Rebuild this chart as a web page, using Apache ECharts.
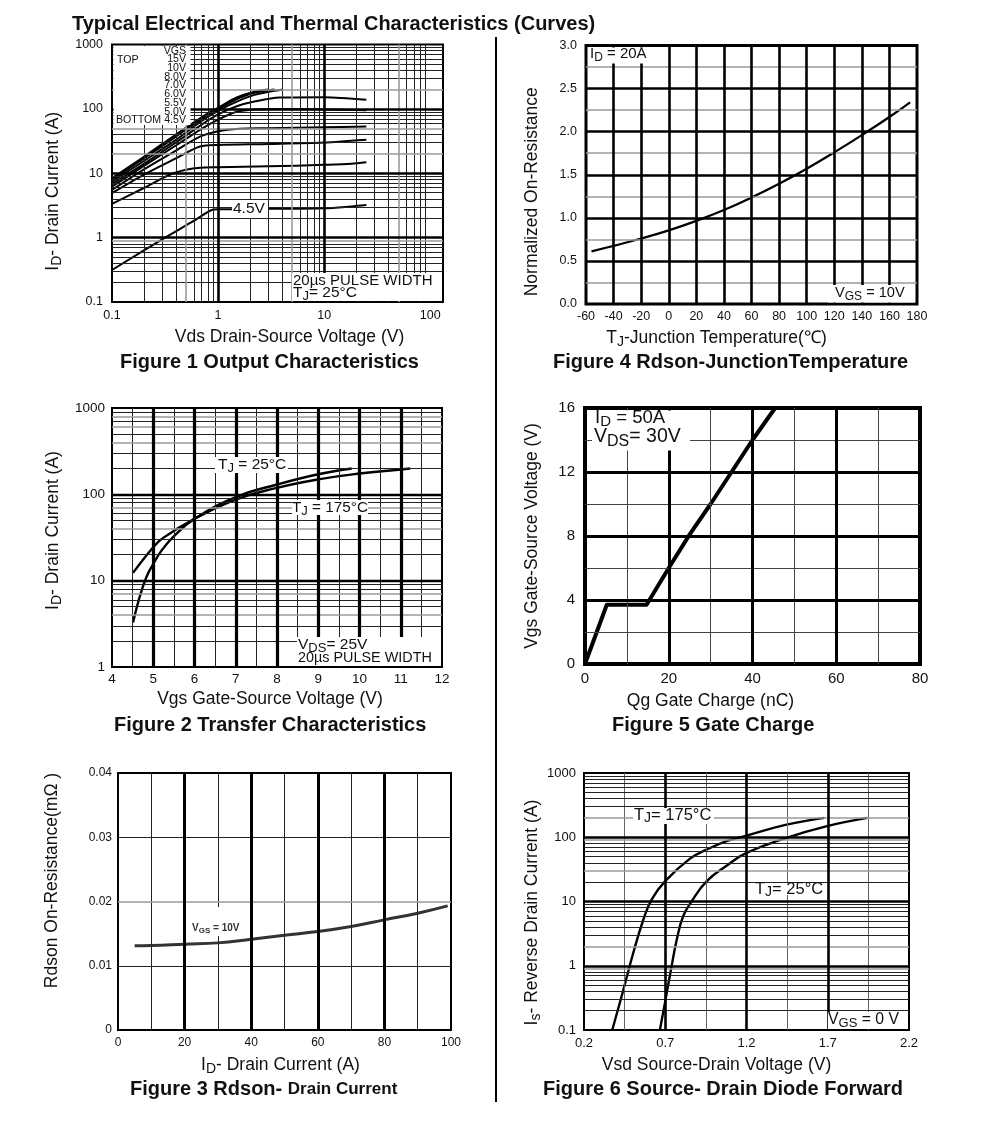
<!DOCTYPE html>
<html><head><meta charset="utf-8">
<style>html,body{margin:0;padding:0;background:#fff}#c{width:991px;height:1129px}</style>
<script src="https://cdn.jsdelivr.net/npm/echarts@6/dist/echarts.min.js"></script>
</head><body><div id="c"></div>
<script>
// ---------- Figure 1 curves (Vds, Id), one array per trace ----------
const f1_a=[[0.1,0.314],[0.3,0.95],[0.6,1.85],[0.87,2.69],[1,2.76],[3,2.8],[10,2.86],[18,3.05],[25,3.2]];
const f1_b=[[0.1,3.34],[0.2,5.9],[0.379,10],[0.676,12.2],[1,12.4],[3,12.8],[10,13.5],[18,14],[25,14.8]];
const f1_c=[[0.1,4.9],[0.2,9.5],[0.4,17],[0.676,26],[1,27.5],[3,28.5],[10,30],[18,32],[25,33]];
const f1_d=[[0.1,5.5],[0.2,11.5],[0.4,22.5],[0.676,37],[1,45],[1.6,49],[3,50],[10,52],[25,53]];
const f1_e=[[0.1,6.2],[0.2,13],[0.4,27],[0.7,49],[1,68],[1.5,90],[2.2,98],[4,100],[10,98],[25,95]];
const f1_f=[[0.1,6.8],[0.2,14],[0.4,30],[0.7,57],[1,82],[1.5,110],[2.2,130],[3.8,150],[10,152],[25,138]];
const f1_g=[[0.1,7.4],[0.2,15.5],[0.4,33],[0.7,65],[1,93],[1.5,130],[2.2,165],[3,185],[4.1,200]];
const f1_h=[[0.1,7.9],[0.2,17],[0.4,37],[0.7,70],[1,98],[1.5,142],[2.2,178],[3.4,200]];
const f1_i=[[0.1,8.4],[0.2,18],[0.4,40],[0.7,74],[1,104],[1.5,150],[2.2,185],[3.0,200]];
const vgsLabels=['VGS','15V','10V','8.0V','7.0V','6.0V','5.5V','5.0V','4.5V'];
// ---------- Figure 2 ----------
const f2_25=[[4.51,3.27],[4.65,6],[4.83,10.9],[5,15.6],[5.2,22.3],[5.48,31.9],[6,52],[7,93],[8,130],[9,171],[9.81,199]];
const f2_175=[[4.51,12.3],[5,24.4],[5.24,31.3],[6,52],[7,87],[8,119],[9,149],[10,174],[11,194],[11.23,199]];
// ---------- Figure 3 ----------
const f3_vals=[[5,0.0131],[10,0.01314],[20,0.01335],[30,0.01356],[40,0.01413],[50,0.01475],[60,0.01532],[70,0.0161],[80,0.01714],[90,0.01818],[99,0.01932]];
// ---------- Figure 4 ----------
const f4_vals=[[-56,0.61],[-40,0.675],[-20,0.76],[0,0.855],[20,0.965],[40,1.09],[60,1.235],[80,1.395],[100,1.57],[120,1.76],[140,1.96],[160,2.17],[175,2.34]];
// ---------- Figure 5 ----------
const f5_vals=[[0,0],[5.2,3.7],[14.7,3.7],[20,6],[25,8.1],[30,10],[35,12],[40,14],[45.4,16]];
// ---------- Figure 6 ----------
const f6_175=[[0.374,0.1],[0.442,0.42],[0.503,1.58],[0.565,5.2],[0.616,10.7],[0.698,20.6],[0.852,46.5],[0.954,64],[1.077,87],[1.2,106],[1.446,157],[1.68,200]];
const f6_25=[[0.667,0.1],[0.702,0.3],[0.739,0.98],[0.77,2.5],[0.81,5.9],[0.862,10],[0.954,20.6],[1.077,36],[1.2,57],[1.446,98],[1.69,148],[1.944,200]];
// ---------- Tick labels and grid values ----------
const logTicks1=[0.1,1,10,100], logTicks2=[1,10,100,1000], logTicks3=[0.1,1,10,100,1000];
const decadeSteps=[2,3,4,5,6,7,8,9];
const minorsOf=(decades)=>decades.flatMap(d=>decadeSteps.map(m=>+(d*m).toPrecision(3)));
const f1_xMajor=[1,10], f1_xMinor=minorsOf([0.1,1,10]), f1_xGray=[0.5,5,50];
const f1_yMajor=[1,10,100], f1_yMinor=minorsOf([0.1,1,10,100]), f1_yGray=[20,50,200,0.9];
const f2_xMajor=[5,6,7,8,9,10,11], f2_xMinor=[4.5,5.5,6.5,7.5,8.5,9.5,10.5,11.5];
const f2_yMajor=[10,100], f2_yMinor=minorsOf([1,10,100]), f2_yGray=[4,7,40,70,400,600,800];
const f3_xMajor=[20,40,60,80], f3_xMinor=[10,30,50,70,90], f3_yMinor=[0.01,0.03], f3_yGray=[0.02];
const f4_xMajor=[-40,-20,0,20,40,60,80,100,120,140,160], f4_yMajor=[0.5,1,1.5,2,2.5], f4_yGray=[0.25,0.75,1.25,1.75,2.25,2.75];
const f5_xMajor=[20,40,60], f5_xMinor=[10,30,50,70], f5_yMajor=[4,8,12], f5_yMinor=[2,6,10,14];
const f6_xMajor=[0.7,1.2,1.7], f6_xMinor=[0.45,0.95,1.45,1.95];
const f6_yMajor=[1,10,100], f6_yMinor=minorsOf([0.1,1,10,100]), f6_yGray=[0.9,2,30,90,200];

const FONT='"Liberation Sans",Arial,sans-serif';
const sub=(a,s,b)=>`{a|${a}}{s|${s}}{a|${b}}`;
const richFor=(size,color,weight)=>({a:{fontSize:size,fontFamily:FONT,fontWeight:weight||'normal',color:color||'#111'},
  s:{fontSize:Math.round(size*0.82),fontFamily:FONT,fontWeight:weight||'normal',color:color||'#111',padding:[Math.round(size*0.45),0,0,0]}});

const figs=[
 {rect:[112,44.5,331,257.5],xType:'log',xMin:0.1,xMax:132,xTicks:logTicks1,yType:'log',yMin:0.1,yMax:1000,yTicks:logTicks3,
  xMajor:f1_xMajor,xMinor:f1_xMinor,xGray:f1_xGray,yMajor:f1_yMajor,yMinor:f1_yMinor,yGray:f1_yGray,
  majW:2.6,minW:1,frame:2,tick:12.5,xMargin:7,yMargin:9,minColor:'#222',
  xName:'Vds Drain-Source Voltage (V)',xGap:26,xShift:12,nameSize:17.5,yName:sub('I','D','- Drain Current (A)'),yGap:48,yShift:-18,
  series:[f1_a,f1_b,f1_c,f1_d,f1_e,f1_f,f1_g,f1_h,f1_i],lw:2,smooth:0.3},
 {rect:[112,408,330,259],xType:'value',xMin:4,xMax:12,xInt:1,yType:'log',yMin:1,yMax:1000,yTicks:logTicks2,
  xMajor:f2_xMajor,xMinor:f2_xMinor,yMajor:f2_yMajor,yMinor:f2_yMinor,yGray:f2_yGray,xMajW:3.2,majW:2.4,minW:1,frame:2,tick:13.5,xMargin:5,yMargin:7,minColor:'#222',
  xName:'Vgs Gate-Source Voltage (V)',xGap:23,xShift:-7,nameSize:17.5,yName:sub('I','D','- Drain Current (A)'),yGap:48,yShift:7,
  series:[f2_25,f2_175],lw:2.4,smooth:0.45},
 {rect:[118,773,333,257],xType:'value',xMin:0,xMax:100,xInt:20,yType:'value',yMin:0,yMax:0.04,yInt:0.01,
  xMajor:f3_xMajor,xMinor:f3_xMinor,yMinor:f3_yMinor,yGray:f3_yGray,xMajW:3,majW:1,minW:1,frame:2,tick:12,xMargin:7,yMargin:6,minColor:'#222',
  xName:sub('I','D','- Drain Current (A)'),xGap:24,xShift:-4,nameSize:17.5,yName:'Rdson On-Resistance(mΩ )',yGap:57,yShift:21,
  series:[f3_vals],lw:3,color:'#333',smooth:0.45},
 {rect:[586,45.5,331,258.5],xType:'value',xMin:-60,xMax:180,xInt:20,yType:'value',yMin:0,yMax:3,yInt:0.5,yFix:1,
  xMajor:f4_xMajor,yMajor:f4_yMajor,yGray:f4_yGray,majW:2.6,minW:1,frame:3,tick:12.5,xMargin:6,yMargin:9,
  xName:sub('T','J','-Junction Temperature(℃)'),xGap:23,xShift:-35,nameSize:17.5,yName:'Normalized On-Resistance',yGap:45,yShift:-17,
  series:[f4_vals],lw:2.2,smooth:0.45},
 {rect:[585,408,335,256],xType:'value',xMin:0,xMax:80,xInt:20,yType:'value',yMin:0,yMax:16,yInt:4,
  xMajor:f5_xMajor,xMinor:f5_xMinor,yMajor:f5_yMajor,yMinor:f5_yMinor,majW:3,minW:1,frame:4,tick:15,xMargin:7,yMargin:10,minColor:'#444',
  xName:'Qg Gate Charge (nC)',xGap:28,xShift:-42,nameSize:17.5,yName:'Vgs Gate-Source Voltage (V)',yGap:44,yShift:0,
  series:[f5_vals],lw:4,smooth:false},
 {rect:[584,773,325,257],xType:'value',xMin:0.2,xMax:2.2,xInt:0.5,xFix:1,yType:'log',yMin:0.1,yMax:1000,yTicks:logTicks3,
  xMajor:f6_xMajor,xMinor:f6_xMinor,yMajor:f6_yMajor,yMinor:f6_yMinor,yGray:f6_yGray,majW:2.6,minW:1,frame:2,tick:13,xMargin:7,yMargin:8,xMinColor:'#666',minColor:'#222',
  xName:'Vsd Source-Drain Voltage (V)',xGap:26,xShift:-30,nameSize:17.5,yName:sub('I','s','- Reverse Drain Current (A)'),yGap:41,yShift:-11,
  series:[f6_175,f6_25],lw:2.4,smooth:0.45}
];

const near=(v,list)=>list.some(t=>Math.abs(v/t-1)<1e-6);
const padFor=(shift)=>{const p=Math.abs(shift)*2;return shift>=0?[0,0,0,p]:[0,p,0,0];};
const grid=[],xAxis=[],yAxis=[],series=[];
figs.forEach((f,i)=>{
  grid.push({left:f.rect[0],top:f.rect[1],width:f.rect[2],height:f.rect[3],show:true,borderColor:'#000',borderWidth:f.frame,backgroundColor:'#fff',containLabel:false});
  const mk=(type,min,max,int,ticks,fix,name,gap,shift,margin)=>{
    const a={gridIndex:i,type,min,max,axisLine:{show:false},axisTick:{show:false},splitLine:{show:false},minorSplitLine:{show:false},
      nameLocation:'middle',name,nameGap:gap,nameMoveOverlap:false,
      nameTextStyle:{fontFamily:FONT,fontSize:f.nameSize,color:'#111',padding:padFor(shift),rich:richFor(f.nameSize)},
      axisLabel:{fontFamily:FONT,fontSize:f.tick,color:'#111',margin,hideOverlap:false,showMinLabel:true,showMaxLabel:true,
        formatter:(v)=>{ if(ticks) return near(v,ticks)?String(+v.toPrecision(3)):''; return fix?v.toFixed(fix):String(v);} }};
    if(int) a.interval=int;
    return a;
  };
  xAxis.push(mk(f.xType,f.xMin,f.xMax,f.xInt,f.xTicks,f.xFix,f.xName,f.xGap,f.xShift,f.xMargin));
  yAxis.push(mk(f.yType,f.yMin,f.yMax,f.yInt,f.yTicks,f.yFix,f.yName,f.yGap,f.yShift,f.yMargin));
  const lines=[];
  const add=(key,vals,w,c)=>(vals||[]).forEach(v=>lines.push({[key]:v,lineStyle:{width:w,color:c,type:'solid'}}));
  const gx=f.xGray||[],gy=f.yGray||[];
  add('xAxis',(f.xMinor||[]).filter(v=>!gx.includes(v)&&!(f.xMajor||[]).includes(v)&&v<f.xMax),f.minW,f.xMinColor||f.minColor||'#111');
  add('yAxis',(f.yMinor||[]).filter(v=>!gy.includes(v)&&!(f.yMajor||[]).includes(v)&&v<f.yMax),f.minW,f.minColor||'#111');
  add('xAxis',gx,1.6,'#9a9a9a');
  add('yAxis',gy,1.6,'#9a9a9a');
  add('xAxis',f.xMajor,f.xMajW||f.majW,'#000');
  add('yAxis',f.yMajor,f.majW,'#000');
  series.push({type:'line',name:'grid'+(i+1),xAxisIndex:i,yAxisIndex:i,data:[],z:1,silent:true,animation:false,
    markLine:{silent:true,animation:false,symbol:'none',label:{show:false},data:lines}});
  f.series.forEach((d,j)=>series.push({type:'line',name:'fig'+(i+1)+'-'+j,xAxisIndex:i,yAxisIndex:i,data:d,z:3,showSymbol:false,symbol:'none',
    smooth:f.smooth,animation:false,clip:true,lineStyle:{color:f.color||'#000',width:f.lw,join:'round'}}));
});

const G=[];
const patch=(x,y,w,h)=>G.push({type:'rect',z:100,silent:true,shape:{x,y,width:w,height:h},style:{fill:'#fff'}});
const note=(text,x,y,size,o)=>{o=o||{};G.push({type:'text',z:101,silent:true,style:{text,x,y,font:`${o.weight||'normal'} ${size}px ${FONT}`,fill:o.color||'#111',
   verticalAlign:'middle',align:o.align||'left',rich:richFor(size,o.color,o.weight)}});};
// Figure 1 legend block
patch(113.5,46,77,79); patch(292,273,150,28); patch(232,200,36,18);
note('TOP',117,60,10.6);
vgsLabels.forEach((t,k)=>note(t,186,50.7+k*8.7,10.6,{align:'right'}));
note('BOTTOM',116,120.5,10.6);
note('4.5V',233,209,15.5);
note('20µs PULSE WIDTH',293,281,15);
note(sub('T','J','= 25°C'),293,293,15.5);
// Figure 2
patch(215,457,73,16); patch(292,500,76,15); patch(297,637,144,29);
note(sub('T','J',' = 25°C'),218,464.5,15.5);
note(sub('T','J',' = 175°C'),292,507.5,15.3);
note(sub('V','DS','= 25V'),298,645,15.5);
note('20µs PULSE WIDTH',298,658,14.4);
// Figure 3
patch(188,907,57,29);
note(sub('V','GS',' = 10V'),192,928,10,{color:'#333',weight:'bold'});
// Figure 4
patch(588,47.5,62,16); patch(828,285,87,17.5);
note(sub('I','D',' = 20A'),590,54,15);
note(sub('V','GS',' = 10V'),835,293,14.6);
// Figure 5
patch(592,410.5,98,40);
note(sub('I','D',' = 50A'),595,418,18.6);
note(sub('V','DS','= 30V'),594,437,19.5);
// Figure 6
patch(633,808,81,16); patch(754,883,72,12); patch(828,1012,79,17);
note(sub('T','J','= 175°C'),634,815,16.5);
note(sub('T','J','= 25°C'),755,889,16.5);
note(sub('V','GS',' = 0 V'),828,1020,15.8);
// centre divider
G.push({type:'line',z:100,silent:true,shape:{x1:496,y1:37,x2:496,y2:1102},style:{stroke:'#000',lineWidth:2}});

const cap=(text,left,top,size,extra)=>({text,left,top,itemGap:0,padding:0,textStyle:Object.assign({fontFamily:FONT,fontWeight:'bold',fontSize:size||20,color:'#111'},extra||{})});
const title=[
 cap('Typical Electrical and Thermal Characteristics (Curves)',72,14,20),
 cap('Figure 1 Output Characteristics',120,352),
 cap('Figure 2 Transfer Characteristics',114,715),
 cap('{a|Figure 3 Rdson- }{b|Drain Current}',130,1079,20,{rich:{a:{fontFamily:FONT,fontWeight:'bold',fontSize:20,color:'#111'},b:{fontFamily:FONT,fontWeight:'bold',fontSize:17,color:'#111'}}}),
 cap('Figure 4 Rdson-JunctionTemperature',553,352),
 cap('Figure 5 Gate Charge',612,715),
 cap('Figure 6 Source- Drain Diode Forward',543,1079)
];
const chart=echarts.init(document.getElementById('c'),null,{renderer:'canvas'});
chart.setOption({animation:false,backgroundColor:'#fff',title,grid,xAxis,yAxis,series,graphic:{elements:G}});
</script></body></html>
